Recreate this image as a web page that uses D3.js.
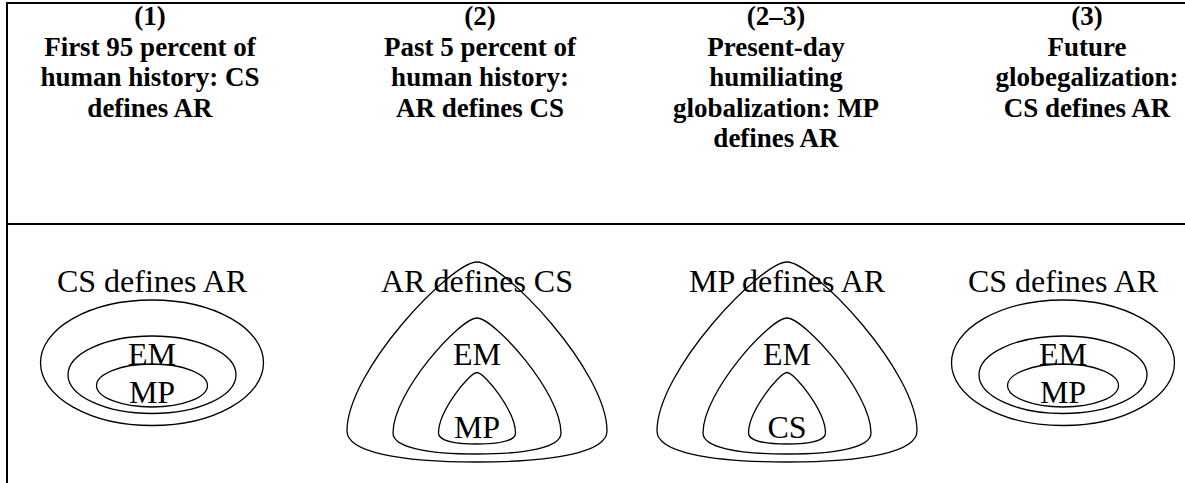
<!DOCTYPE html>
<html lang="en">
<head>
    <meta charset="UTF-8">
    <title>CS / AR / EM / MP</title>
    <script src="https://d3js.org/d3.v7.min.js"></script>
    <style>
        body {
            margin: 0;
            padding: 0;
            background: #fff;
        }
        .head {
            font-family: "Liberation Serif", "Times New Roman", serif;
            font-weight: bold;
            font-size: 27px;
            text-anchor: middle;
            fill: #000;
        }
        .label {
            font-family: "Liberation Serif", "Times New Roman", serif;
            font-size: 32px;
            text-anchor: middle;
            fill: #000;
        }
        .ring {
            fill: none;
            stroke: #000;
            stroke-width: 1.3px;
        }
        .rule {
            stroke: #000;
            stroke-width: 2px;
        }
    </style>
</head>
<body>
    <div id="canvas"></div>
    <script>
        // data
        var panels = ["p1", "p2", "p23", "p3"];
        var headLines = [
            ["(1)", "First 95 percent of", "human history: CS", "defines AR"],
            ["(2)", "Past 5 percent of", "human history:", "AR defines CS"],
            ["(2\u20133)", "Present-day", "humiliating", "globalization: MP", "defines AR"],
            ["(3)", "Future", "globegalization:", "CS defines AR"]
        ];
        var titles = ["CS defines AR", "AR defines CS", "MP defines AR", "CS defines AR"];
        var shapes = ["ellipse", "triangle", "triangle", "ellipse"];
        var innerLabels = [["EM", "MP"], ["EM", "MP"], ["EM", "CS"], ["EM", "MP"]];
        var rings = [1, 2, 3];   // 1 = outer, 3 = inner

        var width = 1185, height = 483;

        var svg = d3.select("#canvas")
            .append("svg")
            .attr("width", width)
            .attr("height", height);

        // column centres
        var headX = d3.scaleOrdinal().domain(panels).range([150, 480, 776, 1087]);
        var diagX = d3.scaleOrdinal().domain(panels).range([152, 477, 787, 1063]);

        // header line baselines
        var headY = d3.scaleLinear().domain([0, 1]).range([25, 55.5]);

        // ellipse ring geometry
        var ellRx = d3.scaleLinear().domain([1, 2, 3]).range([111.5, 84, 55.5]);
        var ellTop = d3.scaleLinear().domain([1, 2, 3]).range([300, 336, 364]);
        var ellBot = d3.scaleLinear().domain([1, 2, 3]).range([425.5, 413.5, 407]);

        // triangle ring geometry
        var triW = d3.scaleLinear().domain([1, 2, 3]).range([130, 84, 38.5]);
        var triTop = d3.scaleLinear().domain([1, 2, 3]).range([262, 318, 372.5]);
        var triBot = d3.scaleLinear().domain([1, 2, 3]).range([462, 454, 444]);

        // label baselines inside diagram
        var labelY = d3.scaleOrdinal().domain(["title", "ellipse0", "ellipse1", "triangle0", "triangle1"])
            .range([292, 365, 403, 365, 438]);

        // table rules
        svg.append("line").attr("class", "rule")
            .attr("x1", 6).attr("x2", width).attr("y1", 3).attr("y2", 3);
        svg.append("line").attr("class", "rule")
            .attr("x1", 7).attr("x2", width).attr("y1", 224).attr("y2", 224);
        svg.append("line").attr("class", "rule")
            .attr("x1", 7).attr("x2", 7).attr("y1", 2).attr("y2", height);

        // rounded triangle
        function triPath(cx, r) {
            var w = triW(r), y0 = triTop(r), y1 = triBot(r), h = y1 - y0;
            var yE = y0 + 0.845 * h;
            var p = d3.path();
            p.moveTo(cx, y0);
            p.bezierCurveTo(cx - 0.2 * w, y0, cx - w, yE - 0.3 * h, cx - w, yE);
            p.bezierCurveTo(cx - w, y0 + 0.95 * h, cx - 0.6 * w, y1, cx, y1);
            p.bezierCurveTo(cx + 0.6 * w, y1, cx + w, y0 + 0.95 * h, cx + w, yE);
            p.bezierCurveTo(cx + w, yE - 0.3 * h, cx + 0.2 * w, y0, cx, y0);
            p.closePath();
            return p.toString();
        }

        panels.forEach(function(key, i) {
            var g = svg.append("g");

            // header text
            g.selectAll("text.head")
                .data(headLines[i])
                .enter()
                .append("text")
                .attr("class", "head")
                .attr("x", headX(key))
                .attr("y", function(d, j) { return headY(j); })
                .text(function(d) { return d; });

            var cx = diagX(key);

            // rings
            if (shapes[i] === "ellipse") {
                g.selectAll("ellipse")
                    .data(rings)
                    .enter()
                    .append("ellipse")
                    .attr("class", "ring")
                    .attr("cx", cx)
                    .attr("cy", function(r) { return (ellTop(r) + ellBot(r)) / 2; })
                    .attr("rx", function(r) { return ellRx(r); })
                    .attr("ry", function(r) { return (ellBot(r) - ellTop(r)) / 2; });
            } else {
                g.selectAll("path")
                    .data(rings)
                    .enter()
                    .append("path")
                    .attr("class", "ring")
                    .attr("d", function(r) { return triPath(cx, r); });
            }

            // title and inner labels
            g.append("text")
                .attr("class", "label")
                .attr("x", cx)
                .attr("y", labelY("title"))
                .text(titles[i]);

            g.selectAll("text.inner")
                .data(innerLabels[i])
                .enter()
                .append("text")
                .attr("class", "label inner")
                .attr("x", cx)
                .attr("y", function(d, j) { return labelY(shapes[i] + j); })
                .text(function(d) { return d; });
        });
    </script>
</body>
</html>
